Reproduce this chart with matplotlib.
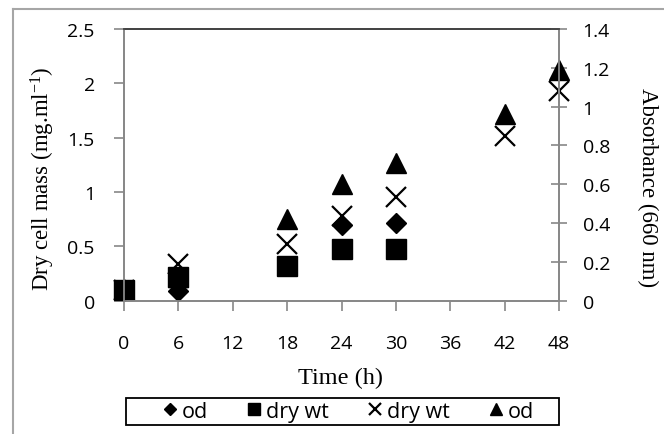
import matplotlib
matplotlib.use("Agg")
import matplotlib.pyplot as plt
from matplotlib.lines import Line2D
from matplotlib.patches import Rectangle

plt.rcParams['mathtext.fontset'] = 'custom'
plt.rcParams['mathtext.rm'] = 'Liberation Serif'
plt.rcParams['mathtext.it'] = 'Liberation Serif:italic'

# values
t_od1 = [0, 6, 18, 24, 30]
od1 = [0.05, 0.05, 0.18, 0.39, 0.40]          # diamonds, absorbance
t_dw1 = [0, 6, 18, 24, 30]
dw1 = [0.10, 0.22, 0.32, 0.48, 0.48]          # squares, mg/ml
t_dw2 = [0, 6, 18, 24, 30, 42, 48]
dw2 = [0.10, 0.34, 0.52, 0.78, 0.95, 1.52, 1.93]   # crosses, mg/ml
t_od2 = [0, 6, 18, 24, 30, 42, 48]
od2 = [0.06, 0.12, 0.42, 0.60, 0.71, 0.96, 1.19]   # triangles, absorbance

xticks = [0, 6, 12, 18, 24, 30, 36, 42, 48]
yticks_left = [0, 0.5, 1, 1.5, 2, 2.5]
yticks_right = [0, 0.2, 0.4, 0.6, 0.8, 1, 1.2, 1.4]
legend_labels = ["od", "dry wt", "dry wt", "od"]

W, H = 664, 435
fig = plt.figure(figsize=(W / 100, H / 100), dpi=100)
fig.patch.set_facecolor("white")

# outer frame (only left and top edges visible)
fig.add_artist(Line2D([13 / W, 13 / W], [0, 1 - 10 / H], transform=fig.transFigure,
                      color="#a6a6a6", lw=1.5))
fig.add_artist(Line2D([13 / W, 1], [1 - 10 / H, 1 - 10 / H], transform=fig.transFigure,
                      color="#a6a6a6", lw=1.5))

left, right = 124 / W, 559 / W
bottom, top = 1 - 301.7 / H, 1 - 30 / H
ax = fig.add_axes([left, bottom, right - left, top - bottom])
ax2 = ax.twinx()

tick_font = dict(family="Open Sans", size=14)
spine_col = "#888888"

ax.set_xlim(0, 48)
ax.set_ylim(0, 2.5)
ax2.set_ylim(0, 1.4)
ax.set_xticks(xticks)
ax.set_yticks(yticks_left)
ax2.set_yticks(yticks_right)
ax.set_xticklabels([str(v) for v in xticks], fontdict=tick_font)
ax.set_yticklabels(["0", "0.5", "1", "1.5", "2", "2.5"], fontdict=tick_font)
ax2.set_yticklabels(["0", "0.2", "0.4", "0.6", "0.8", "1", "1.2", "1.4"], fontdict=tick_font)

for a in (ax, ax2):
    for s in ("left", "bottom", "right"):
        a.spines[s].set_color(spine_col)
        a.spines[s].set_linewidth(1.3)
    a.spines["top"].set_color("#444444")
    a.spines["top"].set_linewidth(1.3)

ax.tick_params(axis="x", direction="out", length=7, width=1.2, color=spine_col, pad=17)
ax.tick_params(axis="y", direction="out", length=7, width=1.2, color=spine_col, pad=14)
ax2.tick_params(axis="y", direction="inout", length=12, width=1.2, color=spine_col, pad=11)

ms = dict(color="black", linestyle="none", clip_on=False)
h1, = ax2.plot(t_od1, od1, marker="D", markersize=10, **ms)
h2, = ax.plot(t_dw1, dw1, marker="s", markersize=14.5, **ms)
h3, = ax.plot(t_dw2, dw2, marker="x", markersize=14.5, markeredgewidth=1.6, **ms)
h4, = ax2.plot(t_od2, od2, marker="^", markersize=15, **ms)

serif = dict(family="Liberation Serif", size=16.5)
fig.text(43 / W, 1 - 179 / H, r"Dry cell mass (mg.ml$^{-1}$)", rotation=90,
         ha="center", va="center", **serif)
fig.text(648 / W, 1 - 188 / H, "Absorbance (660 nm)", rotation=270,
         ha="center", va="center", **serif)
fig.text(341 / W, 1 - 378 / H, "Time (h)", ha="center", va="center",
         family="Liberation Serif", size=17.5)

# legend box drawn separately, items placed inside it
fig.add_artist(Rectangle((126 / W, 1 - 426 / H), (559 - 126) / W, 27 / H,
                         transform=fig.transFigure, fill=False,
                         edgecolor="black", lw=1.3))
leg = fig.legend([h1, h2, h3, h4], legend_labels, loc="center left", ncol=4,
                 bbox_to_anchor=(163 / W, 1 - 412.5 / H),
                 frameon=False, markerscale=0.62,
                 handlelength=0.65, handletextpad=0.2, columnspacing=1.85,
                 borderpad=0, borderaxespad=0,
                 prop=dict(family="Open Sans", size=15.5))

fig.savefig("out.png", dpi=100)
